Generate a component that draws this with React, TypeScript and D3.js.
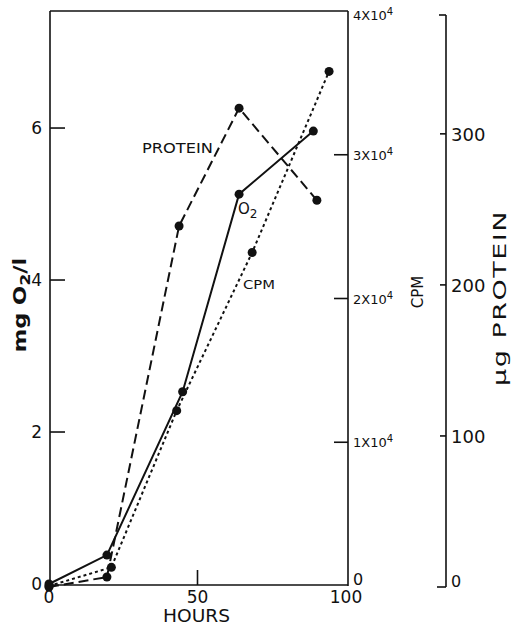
import React from "react";
import * as d3 from "d3";

// Hours of sampling for each series
const o2Hours = [0, 19.5, 45, 64, 89];
const o2Values = [0, 0.38, 2.53, 5.13, 5.96];

const cpmHours = [0, 21, 43, 68.4, 94.3];
const cpmValues = [0, 1300, 12200, 23200, 35800];

const proteinHours = [0, 19.5, 43.8, 64, 90.2];
const proteinValues = [0, 6.6, 239, 317, 256];

const xTicks = [0, 50, 100];
const o2Ticks = [0, 2, 4, 6];
const cpmTicks = [0, 1, 2, 3, 4]; // x10^4
const proteinTicks = [0, 100, 200, 300];

const FONT = "DejaVu Sans, sans-serif";

export default function App() {
  const x = d3.scaleLinear().domain([0, 100]).range([49, 346]);
  const yO2 = d3.scaleLinear().domain([0, 7.54]).range([584, 11]);
  const yCpm = d3.scaleLinear().domain([0, 40000]).range([586, 11]);
  const yProt = d3.scaleLinear().domain([0, 380]).range([587, 13]);

  const left = x(0) + 1;
  const right = x(100) + 2;
  const top = yO2.range()[1];
  const bottom = yO2(0) + 1;
  const protX = 446;

  const o2Data = o2Hours.map((h, i) => [x(h), yO2(o2Values[i])] as [number, number]);
  const cpmData = cpmHours.map((h, i) => [x(h), yCpm(cpmValues[i])] as [number, number]);
  const protData = proteinHours.map((h, i) => [x(h), yProt(proteinValues[i])] as [number, number]);
  const line = d3.line();

  const ax = { stroke: "#111", strokeWidth: 1.6, fill: "none" };

  return (
    <svg width={511} height={625} style={{ position: "absolute", left: 0, top: 0, background: "#fff" }}>
      <g fontFamily={FONT} fill="#111">
        {/* frame */}
        <line x1={left} y1={top} x2={left} y2={bottom} {...ax} />
        <line x1={left} y1={top} x2={right} y2={top} {...ax} />
        <line x1={left} y1={bottom} x2={right} y2={bottom} {...ax} />
        <line x1={right} y1={top} x2={right} y2={bottom + 1} {...ax} />

        {/* left O2 axis ticks */}
        {o2Ticks.map((t) => (
          <g key={"o" + t}>
            {t > 0 && <line x1={left} x2={left + 15} y1={yO2(t)} y2={yO2(t)} {...ax} />}
            <text x={left - 8} y={yO2(t) + 6} fontSize={17} textAnchor="end">{t}</text>
          </g>
        ))}

        {/* x axis ticks */}
        {xTicks.map((t) => (
          <g key={"x" + t}>
            {t === 50 && <line x1={x(t)} x2={x(t)} y1={bottom} y2={bottom - 15} {...ax} />}
            <text x={x(t)} y={603} fontSize={17} textAnchor="middle">{t}</text>
          </g>
        ))}
        <text x={x(50) - 1} y={622} fontSize={17} textAnchor="middle" textLength={67} lengthAdjust="spacingAndGlyphs">HOURS</text>

        {/* CPM axis */}
        {cpmTicks.map((t) => (
          <g key={"c" + t}>
            {t > 0 && t < 4 && (
              <line x1={right - 14} x2={right} y1={yCpm(t * 10000)} y2={yCpm(t * 10000)} {...ax} />
            )}
            {t === 0 ? (
              <text x={right + 5} y={yCpm(0) - 1} fontSize={16}>0</text>
            ) : (
              <text x={right + 5} y={yCpm(t * 10000) + (t === 4 ? 9 : 5)} fontSize={13}>
                {t}X10<tspan dy={-5} fontSize={10}>4</tspan>
              </text>
            )}
          </g>
        ))}

        {/* protein axis */}
        <line x1={protX} y1={yProt(380) + 2} x2={protX} y2={yProt(0)} {...ax} />
        <line x1={protX - 7} y1={yProt(380) + 2} x2={protX} y2={yProt(380) + 2} {...ax} />
        <line x1={protX - 9} y1={yProt(0)} x2={protX} y2={yProt(0)} {...ax} />
        {proteinTicks.map((t) => (
          <g key={"p" + t}>
            {t > 0 && <line x1={protX - 6} x2={protX} y1={yProt(t)} y2={yProt(t)} {...ax} />}
            <text x={protX + 5} y={yProt(t) + (t === 0 ? 0 : 7)} fontSize={t === 0 ? 16 : 18}>{t}</text>
          </g>
        ))}

        {/* axis titles */}
        <text
          transform={`translate(26,${305}) rotate(-90) scale(1.25,1)`}
          fontSize={18}
          textAnchor="middle"
          fontWeight="bold"
        >
          mg O<tspan dy={4} fontSize={14}>2</tspan><tspan dy={-4}>/l</tspan>
        </text>
        <text transform={`translate(423,${292}) rotate(-90)`} fontSize={15} textAnchor="middle">CPM</text>
        <text
          transform={`translate(506,${298}) rotate(-90) scale(1.5,1)`}
          fontSize={18}
          textAnchor="middle"
          letterSpacing={1}
        >
          µg PROTEIN
        </text>

        {/* series */}
        <path d={line(protData)!} fill="none" stroke="#111" strokeWidth={2} strokeDasharray="10,5" />
        <path d={line(cpmData)!} fill="none" stroke="#111" strokeWidth={2} strokeDasharray="3,3" />
        <path d={line(o2Data)!} fill="none" stroke="#111" strokeWidth={2} />
        {[...protData, ...cpmData, ...o2Data].map((p, i) => (
          <circle key={"pt" + i} cx={p[0]} cy={p[1]} r={4.5} fill="#111" />
        ))}

        {/* series labels */}
        <text x={142} y={153} fontSize={14} textLength={71} lengthAdjust="spacingAndGlyphs">PROTEIN</text>
        <text x={238} y={214} fontSize={15}>O<tspan dy={4} fontSize={12}>2</tspan></text>
        <text x={243} y={289} fontSize={13} textLength={32} lengthAdjust="spacingAndGlyphs">CPM</text>
      </g>
    </svg>
  );
}
